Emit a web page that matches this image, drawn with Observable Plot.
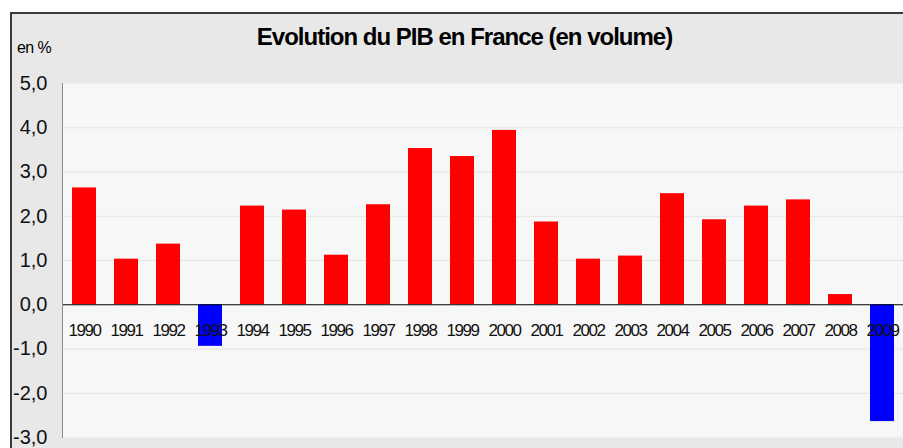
<!DOCTYPE html>
<html>
<head>
<meta charset="utf-8">
<script src="https://cdn.jsdelivr.net/npm/d3@7"></script>
<script src="https://cdn.jsdelivr.net/npm/@observablehq/plot@0.6"></script>
<style>
  html, body { margin: 0; padding: 0; background: #ffffff; overflow: hidden; width: 903px; height: 448px; }
  #wrap { position: absolute; left: 10px; top: 12px; width: 893px; height: 434px; background: #e8e8e8;
          border-top: 2px solid #3a3a3a; border-left: 2px solid #3a3a3a; overflow: hidden;
          font-family: "Liberation Sans", Arial, sans-serif; }
  #title { position: absolute; left: 0; top: 11px; width: 905px; text-align: center; font-size: 24px; line-height: 24px;
           font-weight: bold; letter-spacing: -1px; color: #000; white-space: nowrap; }
  #unit { position: absolute; left: 5px; top: 26px; font-size: 16px; line-height: 16px; color: #000; letter-spacing: -0.6px; }
  #chart { position: absolute; left: 0; top: 52px; }
  #chart svg { font-family: "Liberation Sans", Arial, sans-serif; }
  #chart g[aria-label="text"] text { letter-spacing: -1.5px; }
</style>
</head>
<body>
<div id="wrap">
  <div id="title">Evolution du PIB en France (en volume)</div>
  <div id="unit">en %</div>
  <div id="chart"></div>
</div>
<script>
const years = ["1990","1991","1992","1993","1994","1995","1996","1997","1998","1999",
               "2000","2001","2002","2003","2004","2005","2006","2007","2008","2009"];
const growth = [2.64, 1.03, 1.37, -0.94, 2.23, 2.14, 1.12, 2.26, 3.53, 3.35,
                3.94, 1.87, 1.03, 1.10, 2.51, 1.92, 2.23, 2.37, 0.23, -2.64];
const yTicks = [-3, -2, -1, 0, 1, 2, 3, 4, 5];
const gridTicks = [-2, -1, 1, 2, 3, 4];

const data = years.map((year, i) => ({year, value: growth[i]}));
const fmt = d => d.toFixed(1).replace(".", ",");

const chart = Plot.plot({
  width: 891,
  height: 382,
  marginTop: 17,
  marginBottom: 11,
  marginLeft: 50,
  marginRight: 0,
  x: {type: "band", domain: years, paddingInner: 0.43, paddingOuter: 0.215, axis: null},
  y: {domain: [-3, 5], axis: null},
  marks: [
    Plot.frame({fill: "#f7f7f7", stroke: null}),
    Plot.gridY({ticks: gridTicks, stroke: "#e4e4e4", strokeOpacity: 1, strokeWidth: 1}),
    Plot.barY(data, {x: "year", y: "value", fill: d => d.value < 0 ? "#0000ff" : "#ff0000"}),
    Plot.ruleY([0], {stroke: "#000", strokeWidth: 1}),
    Plot.text(data, {x: "year", y: () => 0, text: "year", dy: 26, fontSize: 17, fill: "#111"}),
    Plot.axisY({ticks: yTicks, tickFormat: fmt, tickSize: 0, tickPadding: 15, fontSize: 20, fill: "#111", label: null}),
    Plot.frame({anchor: "left", stroke: "#8a8a8a", strokeWidth: 1})
  ]
});
document.getElementById("chart").appendChild(chart);
</script>
</body>
</html>
